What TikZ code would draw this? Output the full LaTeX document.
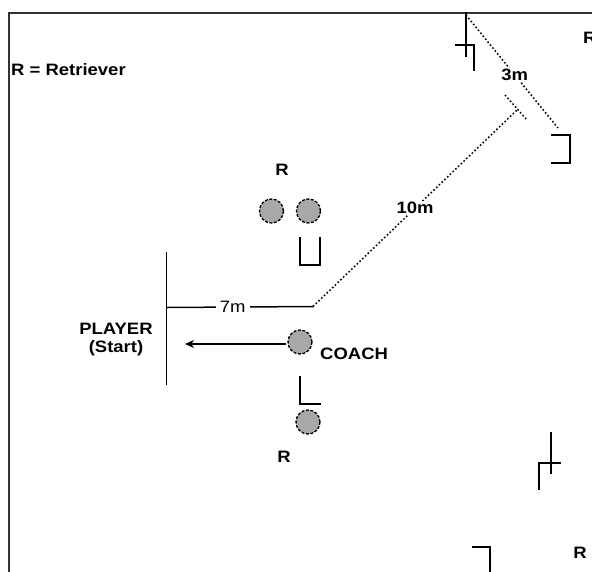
\documentclass[tikz,border=0pt]{standalone}
\usepackage{fontspec}
\newfontfamily\lab[FakeStretch=1.12]{Liberation Sans Bold}
\newfontfamily\labr[FakeStretch=1.12]{Liberation Sans}
\usetikzlibrary{arrows.meta}
\definecolor{ballgray}{HTML}{A8A8A8}
\tikzset{
  txt/.style={font=\lab\fontsize{16.5}{18}\selectfont, inner sep=1pt},
  txtr/.style={font=\labr\fontsize{16.5}{18}\selectfont, inner sep=1pt},
  ball/.style={circle, fill=ballgray, draw=black, line width=1.3pt, dash pattern=on 3pt off 1.5pt, minimum size=24pt, inner sep=0pt},
  conemark/.style={line width=2pt, line cap=rect},
  dotline/.style={line width=1.5pt, dash pattern=on 1.6pt off 2.2pt},
  frameline/.style={line width=2.4pt, draw=black!80}
}
\begin{document}
\begin{tikzpicture}[x=1pt,y=-1pt]
\useasboundingbox (0,0) rectangle (592,571);
\fill[white] (0,0) rectangle (592,571);
% frame (left and top edges)
\coordinate (fbl) at (9,575);
\coordinate (ftl) at (9,13);
\coordinate (ftr) at (596,13);
\draw[frameline] (fbl) -- (ftl) -- (ftr);

% legend
\node[txt, anchor=west] (legend) at (10,70) {R = Retriever};
\node[txt, anchor=west] (rtr) at (582,38) {R};

% top right cone marker
\coordinate (a1) at (465.5,13);
\coordinate (a2) at (465.5,56);
\coordinate (a3) at (456,44.5);
\coordinate (a4) at (473.5,44.5);
\coordinate (a5) at (473.5,70);
\draw[conemark] (a1) -- (a2);
\draw[conemark] (a3) -- (a4) -- (a5);

% bracket right
\coordinate (b1) at (552,135);
\coordinate (b2) at (570,135);
\coordinate (b3) at (570,163);
\coordinate (b4) at (552,163);
\draw[conemark] (b1) -- (b2) -- (b3) -- (b4);

% 3m dotted line
\coordinate (t1) at (466,15);
\coordinate (t2) at (558,128);
\draw[dotline] (t1) -- node[txt, fill=white, pos=0.53] (l3) {3m} (t2);

% 10m dotted line with end tick
\coordinate (c1) at (313,306.5);
\coordinate (c2) at (517,110);
\coordinate (k1) at (505,95);
\coordinate (k2) at (527,120);
\draw[dotline] (c1) -- node[txt, fill=white, pos=0.5] (l10) {10m} (c2);
\draw[dotline] (k1) -- (k2);

% 7m line
\coordinate (s1) at (167,307.5);
\draw[line width=1.5pt] (s1) -- node[txtr, fill=white, pos=0.45, inner sep=4pt] (l7) {7m} (c1);

% start line
\coordinate (v1) at (166.5,252);
\coordinate (v2) at (166.5,385);
\draw[line width=1.8pt] (v1) -- (v2);

\node[txt, align=center] (player) at (116,340) {PLAYER\\(Start)};

% retrievers near
\node[txt] (r1) at (282,170) {R};
\node[ball] (p1) at (271.5,211) {};
\node[ball] (p2) at (308.5,211) {};
\coordinate (u1) at (299.5,238);
\coordinate (u2) at (299.5,265);
\coordinate (u3) at (320,265);
\coordinate (u4) at (320,238);
\draw[conemark] (u1) -- (u2) -- (u3) -- (u4);

% coach
\node[ball] (coach) at (300,342) {};
\node[txt, anchor=west] (coachl) at (319,354) {COACH};
\coordinate (arr) at (185,344);
\draw[line width=1.4pt, -{Stealth[length=9pt,width=8pt]}] (coach.west |- arr) ++(-1,0) -- (arr);

% L marker and lower retriever
\coordinate (m1) at (299.5,377);
\coordinate (m2) at (299.5,403.5);
\coordinate (m3) at (320,403.5);
\draw[conemark] (m1) -- (m2) -- (m3);
\node[ball] (p3) at (308,422) {};
\node[txt] (r2) at (284,457) {R};

% bottom right markers
\coordinate (n1) at (551,433);
\coordinate (n2) at (551,473);
\coordinate (n3) at (539,489);
\coordinate (n4) at (539,463);
\coordinate (n5) at (560,463);
\draw[conemark] (n1) -- (n2);
\draw[conemark] (n3) -- (n4) -- (n5);
\coordinate (q1) at (473,546.5);
\coordinate (q2) at (490,546.5);
\coordinate (q3) at (490,575);
\draw[conemark] (q1) -- (q2) -- (q3);
\node[txt] (r3) at (580,553) {R};
\end{tikzpicture}
\end{document}
